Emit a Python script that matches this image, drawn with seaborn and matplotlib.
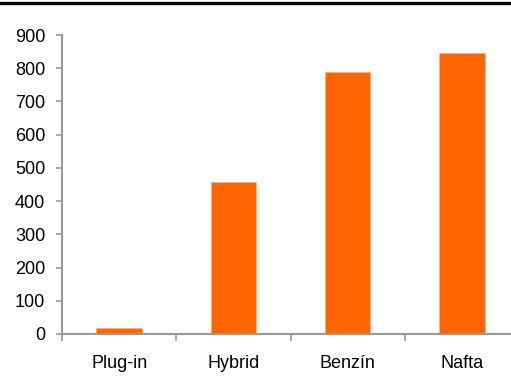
import numpy as np
import pandas as pd
import matplotlib
matplotlib.use('Agg')
import matplotlib.pyplot as plt
from matplotlib.lines import Line2D
import seaborn as sns

# values
categories = ['Plug-in', 'Hybrid', 'Benzín', 'Nafta']
values = [18, 459, 789, 845]
yticks = [0, 100, 200, 300, 400, 500, 600, 700, 800, 900]

df = pd.DataFrame({'typ': categories, 'hodnota': values})

sns.set_style('white')
plt.rcParams['font.family'] = ['Liberation Sans', 'DejaVu Sans']

fig = plt.figure(figsize=(5.11, 3.76), dpi=100)
ax = fig.add_axes([62 / 511, 42 / 376, 457 / 511, 299 / 376])

sns.barplot(data=df, x='typ', y='hodnota', color='#FF6600', saturation=1,
            width=0.4, edgecolor='#FFB080', linewidth=0.6, ax=ax)

ax.set_xlim(-0.5, 3.5)
ax.set_ylim(0, 900)
ax.set_yticks(yticks)
ax.set_yticklabels([str(t) for t in yticks])
ax.set_xlabel('')
ax.set_ylabel('')

# x ticks sit on category boundaries
ax.set_xticks(np.arange(-0.5, 3.6, 1.0), minor=False)
ax.set_xticklabels([])
ax.set_xticks(np.arange(len(categories)), minor=True)
ax.set_xticklabels(categories, minor=True)
ax.tick_params(axis='x', which='major', direction='out', length=5, width=1.2,
               color='#999999', bottom=True)
ax.tick_params(axis='x', which='minor', length=0, pad=15, labelsize=13,
               labelcolor='black')
ax.tick_params(axis='y', direction='out', length=4, width=1.2, color='#999999',
               left=True, labelsize=13, pad=8, labelcolor='black')

for s in ['top', 'right']:
    ax.spines[s].set_visible(False)
for s in ['left', 'bottom']:
    ax.spines[s].set_color('#999999')
    ax.spines[s].set_linewidth(1.5)

# black rule at the top of the figure
fig.add_artist(Line2D([0, 1], [1 - 3 / 376, 1 - 3 / 376], color='black',
                      linewidth=2.4, transform=fig.transFigure))

fig.savefig('out.png', dpi=100)
